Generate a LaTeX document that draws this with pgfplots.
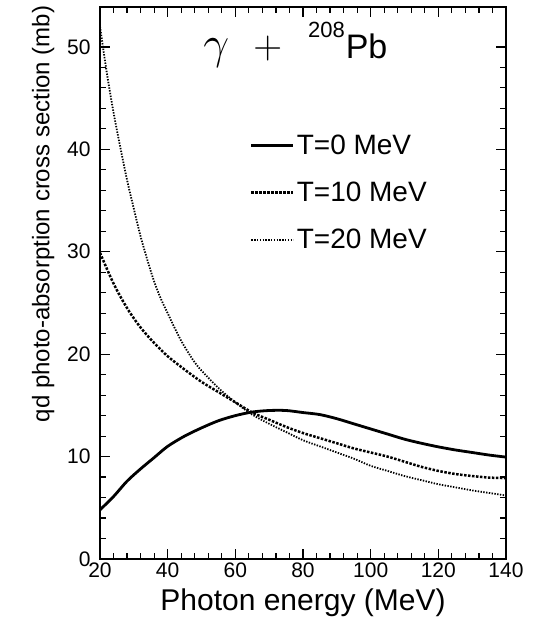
\RequirePackage{fix-cm}
\documentclass[border=0pt]{standalone}
\usepackage{pgfplots}
\pgfplotsset{compat=1.18}
\usepackage{fontspec}
\setmainfont{Liberation Sans}
\begin{document}
\begin{tikzpicture}
\path[use as bounding box] (-100pt,-60pt) rectangle (435pt,559pt);
\begin{axis}[
  scale only axis,
  width=406pt, height=552pt,
  xmin=20, xmax=140, ymin=0, ymax=53.9,
  xtick={20,40,...,140}, ytick={0,10,...,50},
  minor x tick num=4, minor y tick num=4,
  major tick length=10pt, minor tick length=6pt,
  tick align=inside,
  every tick/.style={black, line width=1.2pt},
  axis line style={line width=2pt},
  /pgf/number format/assume math mode=true,
  tick label style={font=\fontsize{21}{24}\selectfont},
  yticklabel style={xshift=-6pt},
  xlabel={Photon energy (MeV)},
  ylabel={qd photo-absorption cross section (mb)},
  xlabel style={font=\fontsize{30}{34}\selectfont, yshift=-4pt},
  ylabel style={font=\fontsize{24}{28}\selectfont, at={(ticklabel cs:0.625)}},
  ylabel shift=6pt,
  legend cell align=left,
  legend style={at={(rel axis cs:0.369,0.772)}, anchor=north west, draw=none, fill=none,
    font=\fontsize{28}{32}\selectfont, row sep=22pt, inner sep=0pt},
  legend image code/.code={\draw[#1] (0pt,0pt) -- (42pt,0pt);},
]
\addplot[black, line width=2.8pt, smooth] coordinates {
(20,4.8) (24,6.1) (28,7.6) (32,8.8) (36,9.9) (40,11.0) (45,12.0) (50,12.8) (55,13.5)
(60,14.0) (65,14.35) (70,14.5) (75,14.5) (80,14.3) (85,14.1) (90,13.7) (95,13.2)
(100,12.7) (105,12.2) (110,11.7) (115,11.3) (120,10.95) (125,10.65) (130,10.4)
(135,10.15) (140,9.95)};
\addlegendentry{T=0 MeV}
\addplot[black, line width=2.5pt, dash pattern=on 2.5pt off 1.5pt, smooth] coordinates {
(20,29.9) (24,26.9) (28,24.5) (32,22.6) (36,21.1) (40,19.8) (45,18.5) (50,17.3)
(55,16.3) (60,15.3) (65,14.3) (70,13.6) (75,12.9) (80,12.3) (85,11.8) (90,11.3)
(95,10.8) (100,10.4) (105,10.0) (110,9.5) (115,9.0) (120,8.6) (125,8.3) (130,8.1)
(135,7.95) (140,7.9)};
\addlegendentry{T=10 MeV}
\addplot[black, line width=1.8pt, dash pattern=on 1.4pt off 1.4pt, smooth] coordinates {
(20,52.0) (22,47.5) (24,43.6) (26,40.2) (28,37.0) (30,34.2) (32,31.5) (34,29.2)
(36,27.1) (38,25.4) (40,24.0) (42,22.6) (44,21.3) (46,20.2) (48,19.2) (50,18.4)
(55,16.7) (60,15.3) (65,14.1) (70,13.2) (75,12.4) (80,11.6) (85,11.0) (90,10.4)
(95,9.8) (100,9.1) (105,8.6) (110,8.1) (115,7.7) (120,7.3) (125,7.0) (130,6.7)
(135,6.45) (140,6.2)};
\addlegendentry{T=20 MeV}
\node[anchor=base west, inner sep=0pt] at (axis cs:50.5,48.9)
  {\fontsize{46}{50}\selectfont$\gamma$\hspace{24pt}\fontsize{40}{44}\selectfont$+$\hspace{26pt}\raisebox{21pt}{\fontsize{22}{26}\selectfont 208}\hspace{1pt}\fontsize{34}{40}\selectfont Pb};
\end{axis}
\end{tikzpicture}
\end{document}
